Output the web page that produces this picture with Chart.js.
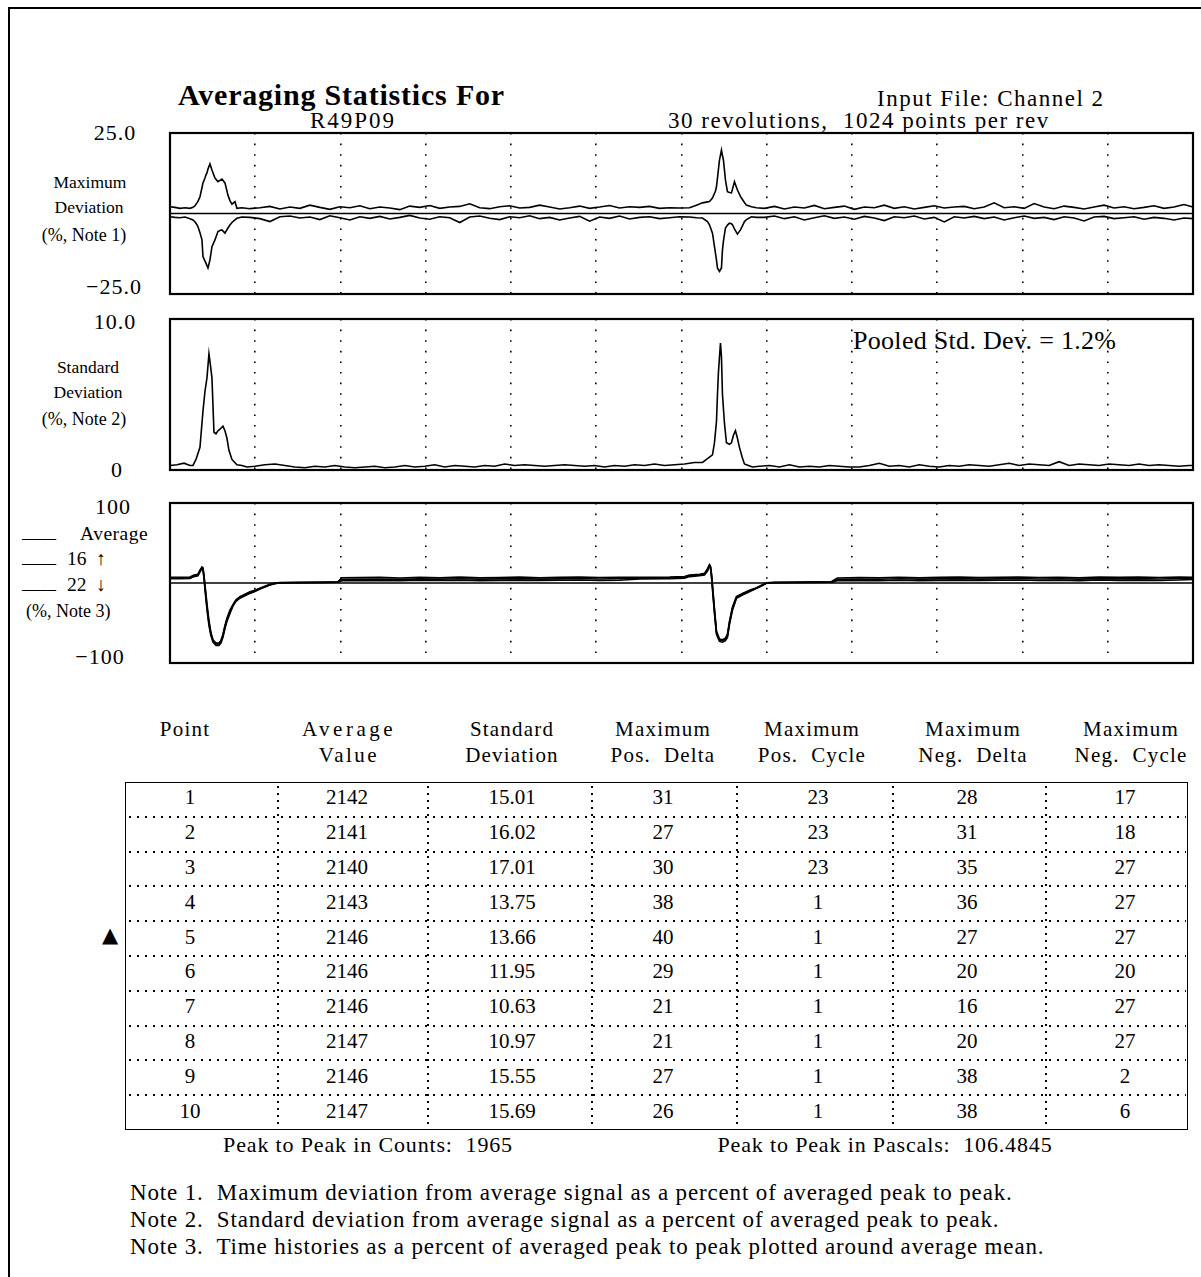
<!DOCTYPE html>
<html><head><meta charset="utf-8">
<script src="https://cdn.jsdelivr.net/npm/chart.js@4.4.1/dist/chart.umd.min.js"></script>
<style>
html,body{margin:0;padding:0;background:#fff;}
body{width:1201px;height:1277px;position:relative;overflow:hidden;font-family:"Liberation Serif","Times New Roman",serif;color:#000;}
.frame{position:absolute;left:8px;top:7px;width:1300px;height:1400px;border-left:2.5px solid #000;border-top:2px solid #000;}
.t{position:absolute;white-space:pre;line-height:1;}
.c{transform:translate(-50%,-50%);}
.l{transform:translate(0,-50%);}
canvas{position:absolute;}
.hd{position:absolute;height:2px;background:repeating-linear-gradient(to right,#000 0 2px,transparent 2px 8px);}
.vd{position:absolute;width:2px;background:repeating-linear-gradient(to bottom,#000 0 2px,transparent 2px 7px);}
</style></head><body>
<div class="frame"></div>
<script>
// ---------------- DATA ----------------
// x positions are sample indices within a 1024-point revolution
const P1_X = [0,5,10,15,20,23,25,27,28,30,32,33,35,36,37,38,40,42,45,48,50,52,55,58,60,62,65,67,72,
 80,90,100,110,120,130,140,150,160,170,180,190,200,210,220,230,240,250,260,270,280,290,300,310,320,330,340,350,360,370,380,390,400,410,420,430,440,450,460,470,480,490,500,
 510,520,527,533,538,540,543,546,547,548,550,552,553,554,556,558,560,562,563,565,568,571,572,575,577,582,587,
 595,605,615,625,635,645,655,665,675,685,695,705,715,725,735,745,755,765,775,785,795,805,815,825,835,845,855,865,875,885,895,905,915,925,935,945,955,965,975,985,995,1005,1015,1024];
const MAX_DEV_UPPER = [2.1,1.9,1.6,1.8,1.6,1.9,2.4,3.3,3.8,5.2,8.0,9.5,11.0,12.0,12.6,13.8,15.4,13.5,11.0,9.9,10.3,10.7,9.5,5.7,4.0,2.9,3.7,1.6,1.8,
 1.5,1.8,2.2,1.4,2.0,1.6,2.6,1.9,1.3,2.1,1.8,2.4,1.5,2.0,1.7,1.2,2.3,1.9,2.5,1.6,2.0,2.2,3.0,1.8,1.5,2.1,2.4,1.7,1.9,2.6,2.0,1.4,1.8,2.3,1.6,2.0,2.5,1.7,2.1,1.9,2.2,1.6,1.8,
 1.7,1.8,2.6,3.3,3.6,3.7,4.8,7.0,8.3,11.0,16.6,19.7,18.0,16.6,10.4,6.8,6.5,6.4,7.5,9.9,7.3,5.3,4.8,3.4,2.6,2.1,1.8,
 1.6,2.2,1.4,2.0,1.7,2.5,1.5,1.9,2.3,1.3,2.0,1.8,2.6,1.6,2.1,1.4,1.9,2.4,1.7,2.0,2.2,1.5,2.0,3.3,1.8,2.1,1.6,3.1,2.0,1.5,2.3,1.9,1.4,2.0,2.6,1.7,2.1,1.5,1.9,2.4,1.6,2.0,2.8,2.0];
const MAX_DEV_LOWER = [-1.0,-1.2,-1.3,-1.1,-1.6,-2.0,-2.6,-3.5,-4.1,-6.0,-8.2,-13.4,-14.8,-15.4,-16.2,-16.9,-14.4,-10.3,-8.2,-5.6,-5.3,-5.1,-6.1,-4.5,-3.6,-2.8,-2.0,-1.5,-1.1,
 -1.2,-1.6,-2.5,-1.0,-0.8,-1.4,-1.1,-1.9,-0.7,-1.3,-2.0,-1.0,-1.5,-0.9,-1.7,-1.2,-0.6,-1.4,-1.8,-1.0,-1.3,-2.8,-1.1,-0.8,-1.5,-1.9,-1.0,-1.3,-0.7,-1.6,-1.2,-2.0,-1.4,-0.9,-2.4,-1.1,-1.5,-0.8,-1.7,-1.2,-1.0,-1.6,-1.3,
 -1.0,-1.1,-1.3,-1.4,-2.5,-3.5,-6.1,-12.3,-14.5,-16.9,-18.0,-16.9,-11.3,-8.5,-4.5,-3.6,-3.0,-3.2,-3.5,-4.8,-6.4,-5.1,-4.5,-2.5,-1.9,-1.0,-1.2,
 -1.2,-0.8,-1.6,-1.0,-2.0,-1.3,-0.7,-1.5,-1.1,-1.8,-0.9,-1.4,-2.2,-1.0,-1.3,-0.8,-1.7,-1.2,-2.6,-1.0,-1.4,-0.9,-1.6,-1.1,-2.0,-1.3,-0.8,-1.5,-1.2,-1.9,-1.0,-1.4,-2.3,-1.1,-0.9,-1.6,-1.3,-1.0,-1.8,-1.2,-1.5,-2.0,-1.4,-1.6];

const P2_X = [0,7,14,20,23,26,30,33,35,37,39,40,42,44,46,48,50,53,55,57,59,62,67,72,77,
 85,95,105,115,125,135,145,155,165,175,185,195,205,215,225,235,245,255,265,275,285,295,305,315,325,335,345,355,365,375,385,395,405,415,425,435,445,455,465,475,485,495,505,515,525,
 533,537,540,543,545,547,548,549,551,552,553,555,557,560,562,564,566,568,570,573,575,579,583,
 590,600,610,620,630,640,650,660,670,680,690,700,710,720,730,740,750,760,770,780,790,800,810,820,830,840,850,860,870,880,890,900,910,920,930,940,950,960,970,980,990,1000,1010,1020,1024];
const STD_DEV = [0.30,0.35,0.45,0.30,0.30,0.7,1.5,3.9,5.2,6.1,7.7,7.2,6.1,2.5,2.4,2.6,2.7,2.9,2.6,2.1,1.3,0.7,0.35,0.3,0.2,
 0.25,0.35,0.4,0.3,0.2,0.15,0.25,0.2,0.3,0.2,0.15,0.2,0.25,0.15,0.2,0.3,0.2,0.25,0.35,0.2,0.3,0.25,0.2,0.3,0.25,0.4,0.3,0.35,0.3,0.25,0.3,0.35,0.3,0.25,0.3,0.2,0.3,0.25,0.35,0.3,0.4,0.3,0.35,0.4,0.5,
 0.5,0.7,0.85,1.0,1.8,3.2,5.0,6.5,8.4,7.5,5.0,3.1,1.8,1.7,1.8,2.3,2.6,2.1,1.5,0.8,0.4,0.3,0.2,
 0.25,0.3,0.2,0.35,0.2,0.25,0.2,0.3,0.25,0.2,0.2,0.3,0.45,0.25,0.3,0.2,0.35,0.25,0.2,0.3,0.25,0.35,0.3,0.25,0.35,0.45,0.3,0.4,0.35,0.3,0.55,0.3,0.4,0.35,0.3,0.4,0.35,0.3,0.4,0.3,0.35,0.3,0.25,0.3,0.3];

const P3_X = [0,10,20,24,28,30,32,33,34,35,37,39,41,43,46,49,51,53,55,57,60,63,66,70,75,80,85,90,95,100,
 105,110,130,150,168,172,190,210,230,250,270,290,310,330,350,370,390,410,430,450,470,500,515,520,530,535,538,540,541,542,
 543,545,547,550,553,556,558,560,563,567,573,580,585,591,597,605,625,645,662,668,690,710,730,750,770,790,810,830,850,870,
 890,910,930,950,970,990,1010,1024];
const HIST_AVERAGE = [6.2,6.2,6.5,9,10,15,19,18,8,-5,-30,-50,-64,-72,-76,-76,-73,-66,-55,-46,-36,-28,-22,-18,-15,-12,-10,-7,-4.5,-2,
 -0.5,0.3,0.6,0.8,1.2,4.5,4.8,5.0,4.6,5.2,4.9,5.3,4.8,5.1,5.5,4.9,5.2,5.6,5.0,5.4,6.0,6.3,7,9,10,11,16,22,20,10,
 -5,-35,-62,-71,-72,-70,-66,-50,-32,-18,-14,-10,-7.5,-4,0,0.6,0.8,1.0,1.2,4.5,5.0,4.7,5.3,4.8,5.1,5.4,4.9,5.2,5.6,5.0,
 5.3,4.8,5.5,5.1,5.4,5.0,5.6,6.0];
const HIST_REV16 = [7.0,7.2,7.5,10,11,16,20,19,10,-2,-26,-47,-62,-71,-75,-75,-72,-64,-53,-44,-34,-27,-21,-17,-14,-11,-9,-6.5,-4,-1.5,
 0,0.5,0.8,1.0,1.5,6.5,6.8,7.0,6.2,7.1,6.6,7.3,6.5,6.9,7.4,6.6,7.0,7.5,6.8,7.2,7.2,7.4,8,10,11,12,18,23,21,12,
 -2,-32,-60,-70,-71,-69,-64,-48,-30,-17,-13,-9,-7,-3.5,0.3,0.8,1.0,1.2,1.5,6.2,6.9,6.4,7.2,6.6,7.0,7.3,6.7,7.1,7.5,6.8,
 7.2,6.6,7.4,7.0,7.3,6.9,7.5,7.2];
const HIST_REV22 = [5.5,5.4,5.8,8,9,14,18,17,6,-8,-33,-53,-66,-74,-78,-78,-75,-68,-57,-48,-38,-29,-23,-19,-16,-13,-10.5,-7.5,-5,-2.5,
 -0.8,0,0.4,0.6,1.0,2.8,3.0,3.3,2.9,3.4,3.1,3.5,3.0,3.3,3.6,3.1,3.4,3.8,3.2,3.5,5.0,5.4,6,8,9,10,15,21,19,8,
 -8,-38,-64,-73,-74,-72,-68,-52,-34,-19,-15,-11,-8,-4.5,-0.3,0.4,0.6,0.8,1.0,2.8,3.2,2.9,3.5,3.0,3.3,3.6,3.1,3.4,3.8,3.2,
 3.5,3.0,3.7,3.3,3.6,3.2,3.8,4.5];

const X_MAX = 1024, X_DIVISIONS = 12;
const Y_RANGES = [[-25, 25], [0, 10], [-100, 100]];
const Y_TICK_LABELS = [["25.0", "\u221225.0"], ["10.0", "0"], ["100", "\u2212100"]];

const TABLE_HEAD = [["Point", ""], ["Average", "Value"], ["Standard", "Deviation"], ["Maximum", "Pos.  Delta"], ["Maximum", "Pos.  Cycle"], ["Maximum", "Neg.  Delta"], ["Maximum", "Neg.  Cycle"]];
const POINTS = [1,2,3,4,5,6,7,8,9,10];
const AVG_VALUE = [2142,2141,2140,2143,2146,2146,2146,2147,2146,2147];
const STD_VALUE = ["15.01","16.02","17.01","13.75","13.66","11.95","10.63","10.97","15.55","15.69"];
const MAX_POS_DELTA = [31,27,30,38,40,29,21,21,27,26];
const MAX_POS_CYCLE = [23,23,23,1,1,1,1,1,1,1];
const MAX_NEG_DELTA = [28,31,35,36,27,20,16,20,38,38];
const MAX_NEG_CYCLE = [17,18,27,27,27,20,27,27,2,6];
const SELECTED_POINT = 5;

// ---------------- TEXT ----------------
function txt(s, x, y, size, cls, extra) {
  const d = document.createElement('div');
  d.className = 't ' + cls;
  d.textContent = s;
  d.style.left = x + 'px'; d.style.top = y + 'px'; d.style.fontSize = size + 'px';
  if (extra) Object.assign(d.style, extra);
  document.body.appendChild(d);
  return d;
}
txt("Averaging Statistics For", 178, 95, 30, 'l', {fontWeight: 'bold', letterSpacing: '0.8px'});
txt("Input File: Channel 2", 877, 98, 23, 'l', {letterSpacing: '1.5px'});
txt("R49P09", 353, 120, 23, 'c', {letterSpacing: '2px'});
txt("30 revolutions,  1024 points per rev", 668, 120, 23, 'l', {letterSpacing: '1.5px'});

// left axis labels
const tickStyle = {letterSpacing: '1px'};
txt(Y_TICK_LABELS[0][0], 115, 133, 22, 'c', tickStyle);
txt("Maximum", 90, 183, 17.5, 'c');
txt("Deviation", 89, 208, 17.5, 'c');
txt("(%, Note 1)", 84, 235, 18, 'c');
txt(Y_TICK_LABELS[0][1], 114, 287, 22, 'c', tickStyle);
txt(Y_TICK_LABELS[1][0], 115, 322, 22, 'c', tickStyle);
txt("Standard", 88, 368, 17.5, 'c');
txt("Deviation", 88, 393, 17.5, 'c');
txt("(%, Note 2)", 84, 419, 18, 'c');
txt(Y_TICK_LABELS[1][1], 117, 470, 22, 'c', tickStyle);
txt(Y_TICK_LABELS[2][0], 113, 507, 22, 'c', tickStyle);
txt("____", 22, 532, 17, 'l');
txt("Average", 80, 534, 19.5, 'l', {letterSpacing: '0.5px'});
txt("____", 22, 557, 17, 'l');
txt("16  \u2191", 67, 559, 19.5, 'l');
txt("____", 22, 583, 17, 'l');
txt("22  \u2193", 67, 585, 19.5, 'l');
txt("(%, Note 3)", 26, 611, 18, 'l');
txt(Y_TICK_LABELS[2][1], 100, 657, 22, 'c', tickStyle);

txt("Pooled Std. Dev. = 1.2%", 853, 341, 26, 'l', {letterSpacing: '0.3px'});

// ---------------- CHARTS ----------------
const boxes = [
  {x: 170, y: 133, w: 1023, h: 161},
  {x: 170, y: 319, w: 1023, h: 151},
  {x: 170, y: 503, w: 1023, h: 160}
];
const PAD = 4;
const frameBox = {id: 'frameBox', afterDraw(chart) {
  const {ctx, chartArea: a} = chart;
  ctx.save(); ctx.strokeStyle = '#000'; ctx.lineWidth = 2.2;
  ctx.strokeRect(a.left, a.top, a.right - a.left, a.bottom - a.top);
  ctx.restore();
}};
function series(xs, ys) { return xs.map((x, i) => ({x: x, y: ys[i]})); }
function lineDs(data, w) {
  return {data: data, borderColor: '#000', borderWidth: w || 1.6, pointRadius: 0, fill: false, tension: 0};
}
function makeChart(i, datasets) {
  const b = boxes[i];
  const cv = document.createElement('canvas');
  cv.width = b.w + 2 * PAD; cv.height = b.h + 2 * PAD;
  cv.style.left = (b.x - PAD) + 'px'; cv.style.top = (b.y - PAD) + 'px';
  cv.style.width = cv.width + 'px'; cv.style.height = cv.height + 'px';
  document.body.appendChild(cv);
  new Chart(cv, {
    type: 'line',
    data: {datasets: datasets},
    plugins: [frameBox],
    options: {
      responsive: false, animation: false, devicePixelRatio: 1,
      layout: {padding: PAD},
      plugins: {legend: {display: false}, tooltip: {enabled: false}},
      scales: {
        x: {type: 'linear', min: 0, max: X_MAX, display: true,
            ticks: {display: false}, grid: {drawTicks: false, color: '#000', lineWidth: 1.6},
            border: {display: false, dash: [1.6, 9]},
            afterBuildTicks: s => { const t = []; for (let k = 0; k <= X_DIVISIONS; k++) t.push({value: k * X_MAX / X_DIVISIONS}); s.ticks = t; }},
        y: {type: 'linear', min: Y_RANGES[i][0], max: Y_RANGES[i][1], display: false}
      }
    }
  });
}
makeChart(0, [
  lineDs(series([0, X_MAX], [0, 0]), 1.7),
  lineDs(series(P1_X, MAX_DEV_UPPER)),
  lineDs(series(P1_X, MAX_DEV_LOWER))
]);
makeChart(1, [lineDs(series(P2_X, STD_DEV))]);
makeChart(2, [
  lineDs(series([0, X_MAX], [0, 0]), 1.4),
  lineDs(series(P3_X, HIST_REV16)),
  lineDs(series(P3_X, HIST_REV22)),
  lineDs(series(P3_X, HIST_AVERAGE), 1.7)
]);

// ---------------- TABLE ----------------
const HEAD_X = [185, 349, 512, 663, 812, 973, 1131];
TABLE_HEAD.forEach((h, i) => {
  const sp = (i === 1) ? '3.5px' : '1.2px';
  txt(h[0], HEAD_X[i], 729, 21, 'c', {letterSpacing: sp});
  if (h[1]) txt(h[1], HEAD_X[i], 755, 21, 'c', {letterSpacing: (i === 1) ? '2.5px' : sp});
});
const T = {x: 125, y: 782, w: 1063, h: 348};
const tb = document.createElement('div');
Object.assign(tb.style, {position: 'absolute', left: T.x + 'px', top: T.y + 'px', width: (T.w - 2) + 'px', height: (T.h - 2) + 'px', border: '1.5px solid #000'});
document.body.appendChild(tb);
const COL_EDGES = [125, 278, 428, 592, 737, 893, 1046, 1188];
const rowH = T.h / POINTS.length;
for (let c = 1; c < COL_EDGES.length - 1; c++) {
  const v = document.createElement('div'); v.className = 'vd';
  Object.assign(v.style, {left: (COL_EDGES[c] - 1) + 'px', top: (T.y + 4) + 'px', height: (T.h - 6) + 'px'});
  document.body.appendChild(v);
}
for (let r = 1; r < POINTS.length; r++) {
  const hdv = document.createElement('div'); hdv.className = 'hd';
  Object.assign(hdv.style, {left: (T.x + 4) + 'px', top: Math.round(T.y + r * rowH - 1) + 'px', width: (T.w - 6) + 'px'});
  document.body.appendChild(hdv);
}
const cols = [POINTS, AVG_VALUE, STD_VALUE, MAX_POS_DELTA, MAX_POS_CYCLE, MAX_NEG_DELTA, MAX_NEG_CYCLE];
const CELL_X = [190, 347, 512, 663, 818, 967, 1125];
POINTS.forEach((p, r) => {
  const cy = T.y + (r + 0.5) * rowH - 2;
  cols.forEach((col, c) => txt(String(col[r]), CELL_X[c], cy, 21, 'c'));
});
txt("\u25B2", 110, T.y + (SELECTED_POINT - 0.5) * rowH - 4, 21, 'c', {fontFamily: 'DejaVu Sans'});

txt("Peak to Peak in Counts:  1965", 368, 1145, 22, 'c', {letterSpacing: '0.85px'});
txt("Peak to Peak in Pascals:  106.4845", 885, 1145, 22, 'c', {letterSpacing: '0.85px'});
const noteStyle = {letterSpacing: '0.85px'};
txt("Note 1.  Maximum deviation from average signal as a percent of averaged peak to peak.", 130, 1192, 23, 'l', noteStyle);
txt("Note 2.  Standard deviation from average signal as a percent of averaged peak to peak.", 130, 1219, 23, 'l', noteStyle);
txt("Note 3.  Time histories as a percent of averaged peak to peak plotted around average mean.", 130, 1246, 23, 'l', noteStyle);
</script>
</body></html>
